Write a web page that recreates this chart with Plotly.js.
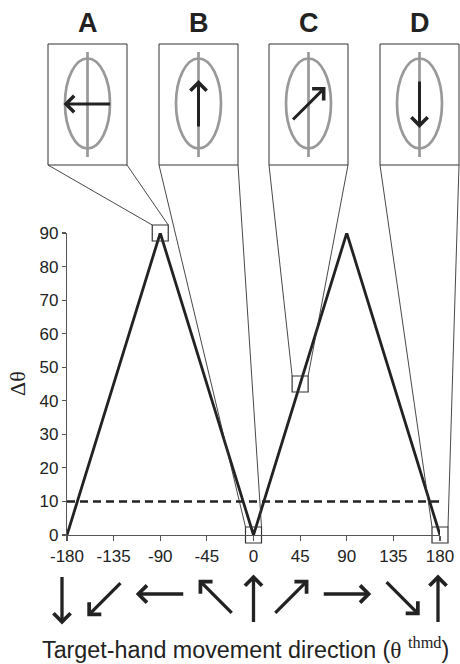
<!DOCTYPE html>
<html>
<head>
<meta charset="utf-8">
<script src="https://cdn.plot.ly/plotly-3.0.1.min.js"></script>
<style>html,body{margin:0;padding:0;background:#fff}#chart{width:460px;height:664px}</style>
</head>
<body>
<div id="chart"></div>
<script>
// ---------- DATA ----------
const xTickVals = [-180, -135, -90, -45, 0, 45, 90, 135, 180];
const xTickText = ['-180', '-135', '-90', '-45', '0', '45', '90', '135', '180'];
const yTickVals = [0, 10, 20, 30, 40, 50, 60, 70, 80, 90];
const curveX = [-180, -90, 0, 90, 180];
const curveY = [0, 90, 0, 90, 0];
const thresholdX = [-180, 180];
const thresholdY = [10, 10];
const selectedX = [-90, 0, 45, 180];
const selectedY = [90, 0, 45, 0];
const panelLabels = ['A', 'B', 'C', 'D'];
const panelArrowAngles = [-90, 0, 45, 180];          // compass angle of hand arrow in each panel
const directionArrowAngles = [180, -135, -90, -45, 0, 45, 90, 135, 0]; // arrow under each tick
const xTitle = 'Target-hand movement direction (<span style="font-family:\'Liberation Serif\'">θ</span> <sup><span style="font-family:\'Liberation Serif\'">thmd</span></sup>)';
const yTitle = 'Δθ';

// ---------- LAYOUT / STYLE ----------
const W = 460, H = 664;
const M = {l: 67, r: 20, t: 233, b: 129};
const PW = W - M.l - M.r, PH = H - M.t - M.b;
const xRange = [-180, 180], yRange = [0, 90];
const px2x = px => (px - M.l) / PW;
const py2y = py => (H - M.b - py) / PH;
const d2x = v => (v - xRange[0]) / (xRange[1] - xRange[0]);
const d2y = v => (v - yRange[0]) / (yRange[1] - yRange[0]);

const panelLeftPx = [48, 159, 269, 380];
const panelWidthPx = 79, panelTopPx = 44, panelBottomPx = 165;
const ellipseCyPx = 103.5, ellipseRx = 22.5, ellipseRy = 45;
const vlineTopPx = 52, vlineBotPx = 157;
const panelArrowLen = 48, panelArrowCyPx = 104;
const labelCyPx = 22.5;
const squareSize = 16, squareHalf = 8;
const dirArrowLen = 49;
const dirArrowNudgeX = [-5, -9, 0, 9, 0, -9, 0, 9, -2];
const dirArrowCyPx = [600, 599, 594, 597, 599, 597, 594, 598, 599];
const GRAY = '#999', INK = '#222', AXIS = '#555';

const traces = [
  {x: curveX, y: curveY, type: 'scatter', mode: 'lines',
   line: {color: INK, width: 2.8}, cliponaxis: false, hoverinfo: 'skip'},
  {x: thresholdX, y: thresholdY, type: 'scatter', mode: 'lines',
   line: {color: INK, width: 2.5, dash: '8px,5px'}, cliponaxis: false, hoverinfo: 'skip'},
  {x: selectedX, y: selectedY, type: 'scatter', mode: 'markers',
   marker: {symbol: 'square-open', size: squareSize, color: '#333', line: {width: 1.2}},
   cliponaxis: false, hoverinfo: 'skip'}
];

const shapes = [];
const annotations = [];

panelLabels.forEach((lab, i) => {
  const x0 = panelLeftPx[i], x1 = x0 + panelWidthPx, cx = (x0 + x1) / 2;
  shapes.push({type: 'rect', xref: 'paper', yref: 'paper',
    x0: px2x(x0), x1: px2x(x1), y0: py2y(panelBottomPx), y1: py2y(panelTopPx),
    line: {color: '#333', width: 1}, fillcolor: 'rgba(0,0,0,0)'});
  shapes.push({type: 'circle', xref: 'paper', yref: 'paper',
    x0: px2x(cx - ellipseRx), x1: px2x(cx + ellipseRx),
    y0: py2y(ellipseCyPx + ellipseRy), y1: py2y(ellipseCyPx - ellipseRy),
    line: {color: GRAY, width: 2.7}});
  shapes.push({type: 'line', xref: 'paper', yref: 'paper',
    x0: px2x(cx), x1: px2x(cx), y0: py2y(vlineBotPx), y1: py2y(vlineTopPx),
    line: {color: GRAY, width: 2.7}});
  const sx = d2x(selectedX[i]), sy = d2y(selectedY[i]);
  const dx = squareHalf / PW, dy = squareHalf / PH;
  shapes.push({type: 'line', xref: 'paper', yref: 'paper',
    x0: px2x(x0), y0: py2y(panelBottomPx), x1: sx - dx, y1: sy + dy,
    line: {color: '#333', width: 0.9}});
  shapes.push({type: 'line', xref: 'paper', yref: 'paper',
    x0: px2x(x1), y0: py2y(panelBottomPx), x1: sx + dx, y1: sy + dy,
    line: {color: '#333', width: 0.9}});
  annotations.push({xref: 'paper', yref: 'paper', x: px2x(cx), y: py2y(labelCyPx),
    xanchor: 'center', yanchor: 'middle', showarrow: false,
    text: '<b>' + lab + '</b>', font: {family: 'Liberation Sans, Arial', size: 27, color: INK}});
  const a = panelArrowAngles[i] * Math.PI / 180;
  const hx = cx + Math.sin(a) * panelArrowLen / 2;
  const hy = panelArrowCyPx - Math.cos(a) * panelArrowLen / 2;
  annotations.push({xref: 'paper', yref: 'paper', x: px2x(hx), y: py2y(hy),
    ax: -Math.sin(a) * panelArrowLen, ay: Math.cos(a) * panelArrowLen,
    axref: 'pixel', ayref: 'pixel', text: '', showarrow: true,
    arrowhead: 4, arrowsize: 1.05, arrowwidth: 3, arrowcolor: INK});
});

directionArrowAngles.forEach((ang, i) => {
  const a = ang * Math.PI / 180;
  annotations.push({xref: 'x', yref: 'paper', x: xTickVals[i], y: py2y(dirArrowCyPx[i]),
    xshift: dirArrowNudgeX[i] + Math.sin(a) * dirArrowLen / 2,
    yshift: Math.cos(a) * dirArrowLen / 2,
    ax: -Math.sin(a) * dirArrowLen, ay: Math.cos(a) * dirArrowLen,
    axref: 'pixel', ayref: 'pixel', text: '', showarrow: true,
    arrowhead: 4, arrowsize: 1.0, arrowwidth: 3.3, arrowcolor: INK});
});

annotations.push({xref: 'paper', yref: 'paper', x: px2x(40), y: py2y(648),
  xanchor: 'left', yanchor: 'middle', showarrow: false, text: xTitle,
  font: {family: 'Liberation Sans, Arial', size: 23.3, color: INK}});
annotations.push({xref: 'paper', yref: 'paper', x: px2x(17), y: py2y(384),
  xanchor: 'center', yanchor: 'middle', showarrow: false, text: yTitle, textangle: -90,
  font: {family: 'Liberation Serif, Times New Roman', size: 22, color: INK}});

const layout = {
  width: W, height: H, margin: M,
  paper_bgcolor: '#fff', plot_bgcolor: 'rgba(0,0,0,0)',
  showlegend: false,
  font: {family: 'Liberation Sans, Arial', color: INK},
  xaxis: {range: xRange, tickvals: xTickVals, ticktext: xTickText,
    showgrid: false, zeroline: false, showline: true, linecolor: AXIS, linewidth: 1.2,
    ticks: 'outside', ticklen: 5, tickcolor: AXIS, tickwidth: 1.2,
    tickfont: {size: 17, color: INK}, fixedrange: true},
  yaxis: {range: yRange, tickvals: yTickVals,
    showgrid: false, zeroline: false, showline: true, linecolor: AXIS, linewidth: 1.2,
    ticks: 'outside', ticklen: 4, tickcolor: AXIS, tickwidth: 1.2,
    tickfont: {size: 17, color: INK}, fixedrange: true},
  shapes: shapes,
  annotations: annotations
};

Plotly.newPlot('chart', traces, layout, {staticPlot: true, displayModeBar: false});
</script>
</body>
</html>
